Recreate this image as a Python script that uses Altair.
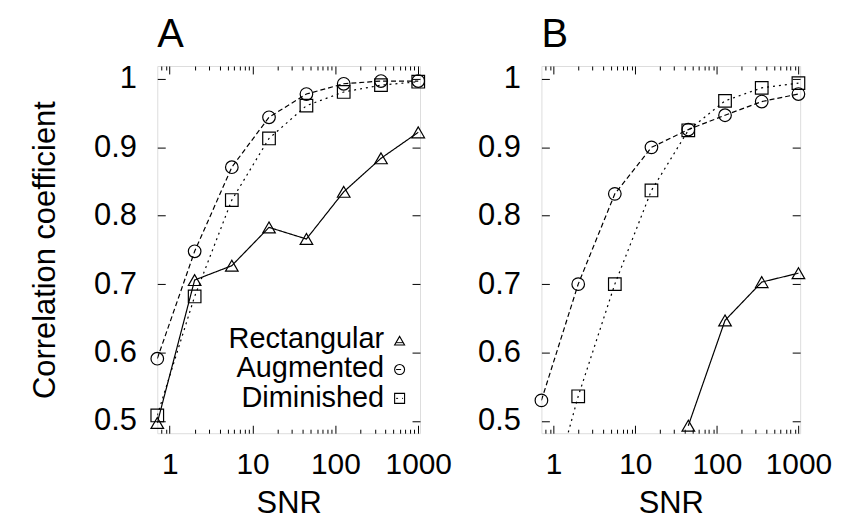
import altair as alt
import pandas as pd

FONT = "Liberation Sans"

snr = [0.708, 2.0, 5.62, 15.8, 44.7, 126, 355, 1000]
series = ["Rectangular", "Augmented", "Diminished"]

a_rect = [0.497, 0.706, 0.727, 0.783, 0.766, 0.835, 0.884, 0.922]
a_aug = [0.591, 0.748, 0.871, 0.944, 0.978, 0.993, 0.997, 0.997]
a_dim = [0.508, 0.682, 0.823, 0.913, 0.961, 0.981, 0.991, 0.996]

b_rect = [None, None, None, None, 0.493, 0.647, 0.703, 0.716]
b_aug = [0.530, 0.700, 0.832, 0.900, 0.926, 0.947, 0.967, 0.978]
b_dim = [0.34, 0.536, 0.700, 0.837, 0.925, 0.968, 0.987, 0.994]

major_x = [1, 10, 100, 1000]
minor_x = [0.8, 0.9] + [k * 10 ** e for e in range(0, 3) for k in range(2, 10)]
major_y = [0.5, 0.6, 0.7, 0.8, 0.9, 1.0]

X_DOMAIN = [0.708, 1050]
Y_DOMAIN = [0.482, 1.019]

shapes = ["triangle-up", "circle", "square"]
dashes = [[1, 0], [5, 3], [2, 4]]


def long_df(rect, aug, dim):
    rows = []
    for name, vals in zip(series, [rect, aug, dim]):
        for x, v in zip(snr, vals):
            if v is not None:
                rows.append({"snr": x, "corr": v, "series": name})
    return pd.DataFrame(rows)


x_scale = alt.Scale(type="log", domain=X_DOMAIN, nice=False)
y_scale = alt.Scale(domain=Y_DOMAIN, nice=False, zero=False)

common_axis = dict(domain=False, grid=False, tickColor="black", tickWidth=1,
                   labelOverlap=False, minExtent=0, maxExtent=400)


def panel(df, title, ytitle, with_legend, width):
    ax_bottom = alt.Axis(orient="bottom", values=major_x, tickSize=8, offset=-8,
                         labelPadding=16, labelFont=FONT, labelFontSize=30,
                         labelColor="black", format="d", labelFlush=False,
                         title="SNR",
                         titleFont=FONT, titleFontSize=31, titleFontWeight="normal",
                         titleColor="black", titlePadding=10, **common_axis)
    ax_bottom_minor = alt.Axis(orient="bottom", values=minor_x, tickSize=4, offset=-4,
                               labels=False, title=None, **common_axis)
    ax_top = alt.Axis(orient="top", values=major_x, tickSize=8, offset=-8,
                      labels=False, title=None, **common_axis)
    ax_top_minor = alt.Axis(orient="top", values=minor_x, tickSize=4, offset=-4,
                            labels=False, title=None, **common_axis)
    ax_left_kwargs = dict(orient="left", values=major_y, tickSize=8, offset=-8,
                          labelPadding=21, labelFont=FONT, labelFontSize=31,
                          labelColor="black",
                          labelExpr="datum.value == 1 ? '1' : format(datum.value, '.1f')",
                          **common_axis)
    if ytitle:
        ax_left = alt.Axis(title=ytitle, titleFont=FONT, titleFontSize=31,
                           titleFontWeight="normal", titleColor="black",
                           titlePadding=32, **ax_left_kwargs)
    else:
        ax_left = alt.Axis(title=None, **ax_left_kwargs)
    ax_right = alt.Axis(orient="right", values=major_y, tickSize=8, offset=-8,
                        labels=False, title=None, **common_axis)

    minor_b = alt.Chart(df).mark_point(opacity=0).encode(
        x=alt.X("snr:Q", scale=x_scale, axis=ax_bottom_minor),
        y=alt.Y("corr:Q", scale=y_scale, axis=None))
    minor_t = alt.Chart(df).mark_point(opacity=0).encode(
        x=alt.X("snr:Q", scale=x_scale, axis=ax_top_minor),
        y=alt.Y("corr:Q", scale=y_scale, axis=None))
    lines = alt.Chart(df).mark_line(clip=True, color="black", strokeWidth=1.2).encode(
        x=alt.X("snr:Q", scale=x_scale, axis=ax_bottom),
        y=alt.Y("corr:Q", scale=y_scale, axis=ax_left),
        strokeDash=alt.StrokeDash("series:N", scale=alt.Scale(domain=series, range=dashes),
                                  legend=None))
    points = alt.Chart(df).transform_filter(
        alt.datum.corr >= Y_DOMAIN[0]).mark_point(
        filled=False, color="black", size=160, strokeWidth=1.2, opacity=1).encode(
        x=alt.X("snr:Q", scale=x_scale, axis=ax_top),
        y=alt.Y("corr:Q", scale=y_scale, axis=ax_right),
        shape=alt.Shape("series:N", scale=alt.Scale(domain=series, range=shapes),
                        legend=None))
    layers = [minor_b, minor_t, lines, points]

    if with_legend:
        text_y = [283, 313, 343]
        sym_y = [276, 305, 334]
        for i, name in enumerate(series):
            ldf = pd.DataFrame({"label": [name]})
            layers.append(alt.Chart(ldf).mark_text(
                align="right", baseline="alphabetic", font=FONT, fontSize=29,
                color="black").encode(x=alt.value(228), y=alt.value(text_y[i]),
                                      text="label:N"))
            layers.append(alt.Chart(ldf).mark_point(
                shape=shapes[i], filled=False, color="black", size=100,
                strokeWidth=1.1, opacity=1).encode(x=alt.value(243.5), y=alt.value(sym_y[i])))
            layers.append(alt.Chart(ldf).mark_rule(
                color="black", strokeWidth=1, strokeDash=dashes[i]).encode(
                x=alt.value(240), x2=alt.value(247), y=alt.value(sym_y[i] + (2 if i == 0 else 0))))

    return alt.layer(*layers).resolve_axis(x="independent", y="independent").properties(
        width=width, height=369,
        title=alt.TitleParams(text=title, anchor="start", frame="group", fontSize=40,
                              font=FONT, fontWeight="normal", color="black", offset=8))


dfA = long_df(a_rect, a_aug, a_dim)
dfB = long_df(b_rect, b_aug, b_dim)

chart = alt.hconcat(
    panel(dfA, "A", "Correlation coefficient", True, 264),
    panel(dfB, "B", None, False, 260),
    spacing=24,
).properties(
    padding={"left": 21, "top": 5, "right": 0, "bottom": 0},
    background="white",
).configure_view(stroke="black", strokeWidth=1.5).configure(font=FONT)

chart.save("out.html", embed_options={"renderer": "svg", "actions": False})
